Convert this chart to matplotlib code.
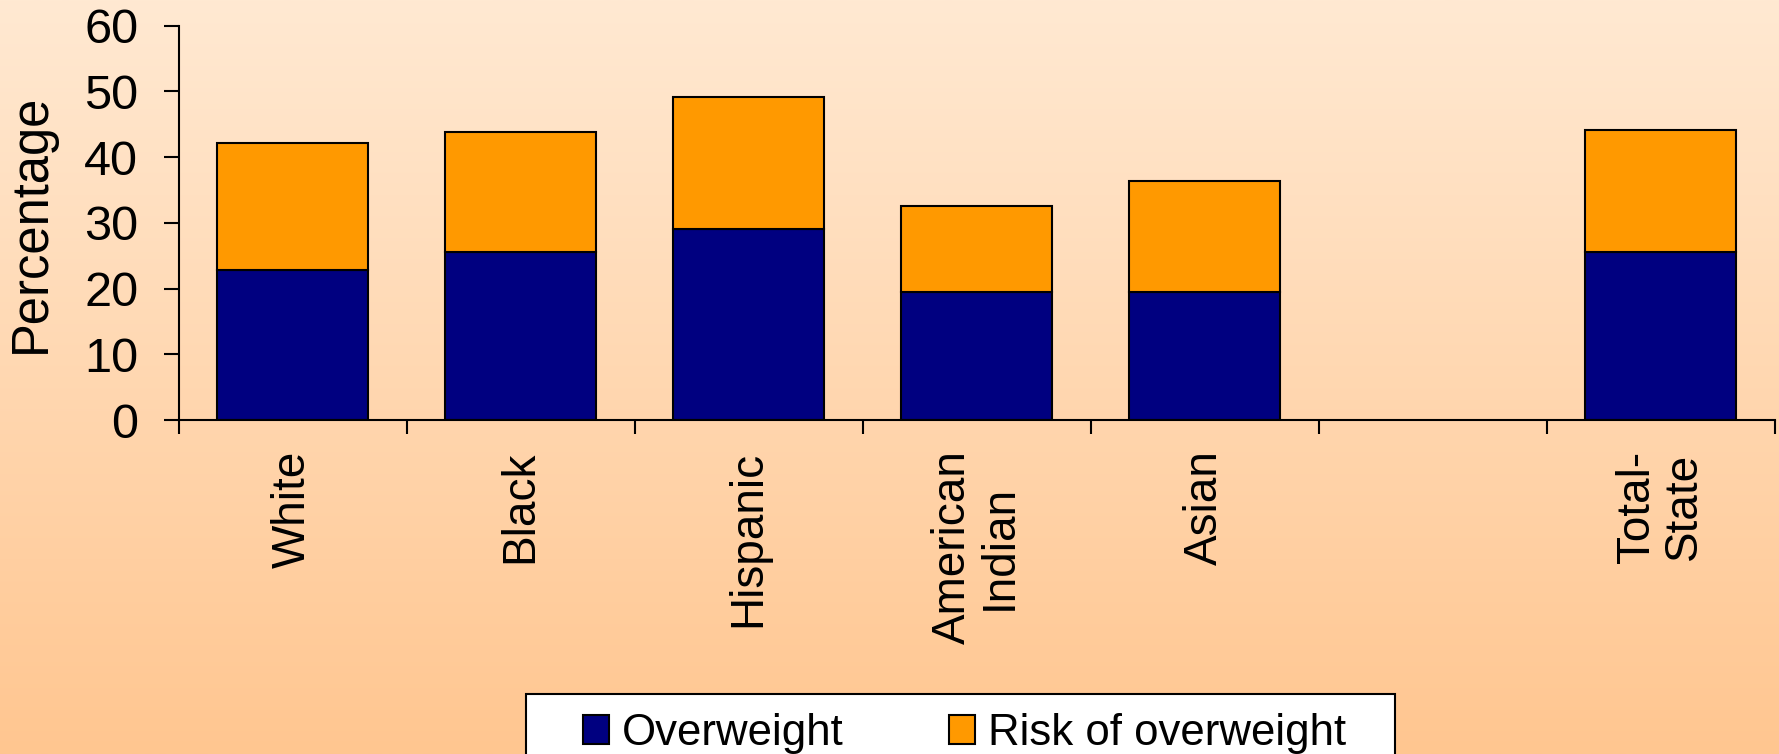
import numpy as np
import matplotlib
matplotlib.use("Agg")
import matplotlib.pyplot as plt
from matplotlib.colors import LinearSegmentedColormap
from matplotlib.patches import Rectangle
from matplotlib.transforms import IdentityTransform

plt.rcParams["font.family"] = ["Liberation Sans", "DejaVu Sans"]

# Data: percentage of children by race/ethnicity
categories = ["White", "Black", "Hispanic", "American\nIndian", "Asian", "", "Total-\nState"]
overweight = [22.8, 25.5, 29.0, 19.5, 19.5, 0.0, 25.5]
risk_of_overweight = [19.4, 18.3, 20.1, 13.1, 16.8, 0.0, 18.7]
series_labels = ["Overweight", "Risk of overweight"]
yticks = [0, 10, 20, 30, 40, 50, 60]

navy = "#000080"
orange = "#FF9900"

W, H, DPI = 1779, 754, 100
fig = plt.figure(figsize=(W / DPI, H / DPI), dpi=DPI)

# Vertical peach gradient background
bg = fig.add_axes([0, 0, 1, 1], zorder=0)
grad = np.linspace(0, 1, 256).reshape(-1, 1)
cmap = LinearSegmentedColormap.from_list("peach", ["#FFE9D2", "#FFC690"])
bg.imshow(grad, aspect="auto", cmap=cmap, extent=[0, 1, 0, 1], origin="upper")
bg.set_axis_off()

left, right = 178.5 / W, 1774.5 / W
bottom, top = 1 - 420 / H, 1 - 25.7 / H
ax = fig.add_axes([left, bottom, right - left, top - bottom], zorder=1)
ax.patch.set_alpha(0)

x = np.arange(len(categories))
width = 0.665
mask = [c != "" for c in categories]
xs = x[mask]
ow = np.array(overweight)[mask]
rk = np.array(risk_of_overweight)[mask]

b1 = ax.bar(xs, ow, width, color=navy, edgecolor="black", linewidth=1.5,
            label=series_labels[0])
b2 = ax.bar(xs, rk, width, bottom=ow, color=orange, edgecolor="black",
            linewidth=1.5, label=series_labels[1])

ax.set_xlim(-0.5, len(categories) - 0.5)
ax.set_ylim(0, 60)
ax.set_yticks(yticks)
ax.set_yticklabels([str(v) for v in yticks], fontsize=35)
ax.tick_params(axis="y", direction="out", length=11, width=1.5, pad=18)

# Category labels centred between boundary ticks
ax.set_xticks(np.arange(-0.5, len(categories)))
ax.set_xticklabels([])
ax.tick_params(axis="x", direction="out", length=10, width=1.5)
for xi, lab in zip(x, categories):
    if lab:
        ax.annotate(lab, xy=(xi, 0), xycoords=("data", "axes fraction"),
                    xytext=(0, -22), textcoords="offset points",
                    rotation=90, ha="center", va="top", fontsize=33,
                    multialignment="center", linespacing=1.1)

ax.set_ylabel("Percentage", fontsize=36.5, labelpad=20)

for side in ("top", "right"):
    ax.spines[side].set_visible(False)
for side in ("left", "bottom"):
    ax.spines[side].set_linewidth(1.5)

leg = fig.legend(handles=[b1, b2], labels=series_labels, loc="upper left",
                 bbox_to_anchor=(583 / W, 1 - 713 / H), ncol=2,
                 fontsize=31.5, frameon=False,
                 handlelength=0.6, handleheight=0.62, handletextpad=0.3,
                 columnspacing=2.4, borderpad=0, borderaxespad=0)
leg.set_zorder(6)

# White boxed frame around the legend, running off the bottom edge
renderer = fig.canvas.get_renderer()
bb = leg.get_window_extent(renderer)
pad_l, pad_r, pad_t = 57, 48, 19
frame = Rectangle((bb.x0 - pad_l, -20), bb.width + pad_l + pad_r,
                  bb.y1 + pad_t + 20, transform=IdentityTransform(),
                  facecolor="white", edgecolor="black", linewidth=1.5,
                  zorder=5)
fig.add_artist(frame)

fig.savefig("out.png", dpi=DPI)
